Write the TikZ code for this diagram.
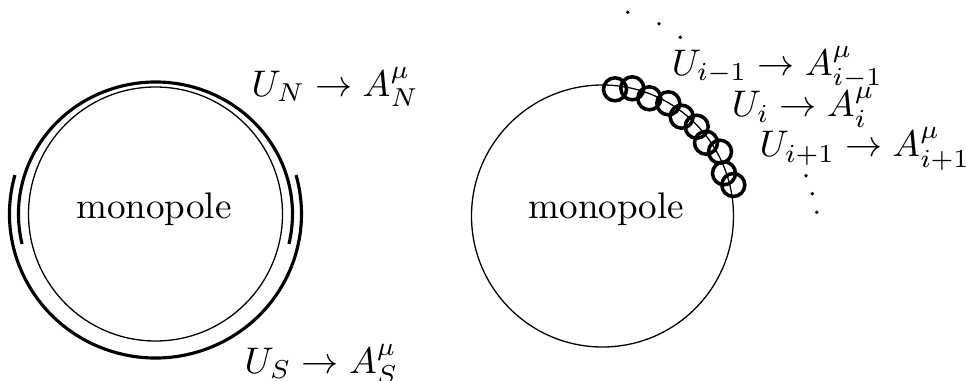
\documentclass[tikz,border=0pt]{standalone}
\usetikzlibrary{calc}
\begin{document}
\begin{tikzpicture}[x=0.27pt,y=0.27pt,
  thinline/.style={line width=0.35pt},
  patch/.style={line width=0.85pt},
  link/.style={line width=0.95pt},
  lbl/.style={inner sep=0pt,anchor=base west,font=\fontsize{10}{12}\selectfont},
  mono/.style={inner sep=0pt,anchor=base,font=\fontsize{10}{12}\selectfont},
  dotc/.style={fill=black,draw=none}]
\useasboundingbox (0,0) rectangle (966,380);
% left figure
\coordinate (cl) at (155.5,166);
\draw[thinline] (cl) circle[radius=127];
\draw[patch] ($(cl)+(193.1:137 and 132)$) arc[start angle=193.1,end angle=-13.1,x radius=137,y radius=132];
\draw[patch] ($(cl)+(164.3:146 and 144)$) arc[start angle=164.3,end angle=375.7,x radius=146,y radius=144];
\node[mono] (monoL) at (154,162) {monopole};
\node[lbl] (UN) at (251,284) {$U_N \to A^\mu_N$};
\node[lbl] (US) at (244,7) {$U_S \to A^\mu_S$};
% right figure
\coordinate (cr) at (602.5,164);
\draw[thinline] (cr) circle[radius=131];
\node[mono] (monoR) at (606.5,162) {monopole};
\foreach \p in {(615,290.7),(632.3,291.7),(649.3,281.7),(668.3,276.7),(681.7,263.3),(696.7,253.3),(706,237.3),(720,228.3),(724,206.7),(733.3,195)}{
  \draw[link] \p circle[radius=11.5];
}
\foreach \p in {(627.7,367.7),(659,356.3),(680.3,342.7),(806,204.3),(812.3,186.3),(816.7,167.7)}{
  \fill[dotc] \p circle[radius=1.9];
}
\node[lbl] (Uim) at (671,305) {$U_{i-1} \to A^\mu_{i-1}$};
\node[lbl] (Ui) at (731,263.3) {$U_i \to A^\mu_i$};
\node[lbl] (Uip) at (759,223.3) {$U_{i+1} \to A^\mu_{i+1}$};
\end{tikzpicture}
\end{document}
